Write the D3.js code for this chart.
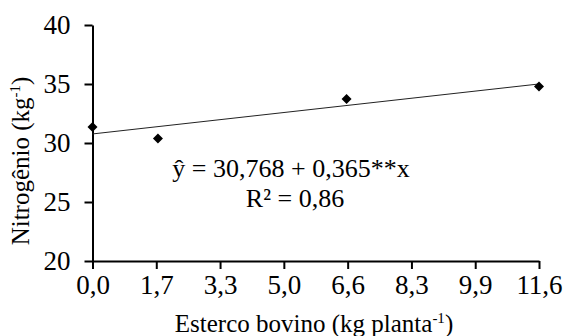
<!DOCTYPE html>
<html>
<head>
<meta charset="utf-8">
<script src="https://cdn.jsdelivr.net/npm/d3@7"></script>
<style>
  body { margin: 0; background: #fff; }
  svg, svg text { font-family: 'Liberation Serif', 'Times New Roman', Times, serif; fill: #000; }
  .axis path, .axis line { stroke: #000; stroke-width: 2; }
  .axis text { font-size: 27px; }
</style>
</head>
<body>
<div id="chart"></div>
<script>
// Datos
const doses = [0, 1.7, 6.6, 11.6]
const nitrogen = [31.36, 30.38, 33.72, 34.78]
const xTicks = [0, 1.657, 3.314, 4.971, 6.629, 8.286, 9.943, 11.6]
const xTickLabels = ["0,0", "1,7", "3,3", "5,0", "6,6", "8,3", "9,9", "11,6"]
const yTicks = [20, 25, 30, 35, 40]
const intercept = 30.768
const slope = 0.365

const width = 571
const height = 336
const margin = { top: 25, bottom: 75, left: 92.5, right: 32 }

const svg = d3.select("div#chart").append("svg")
    .attr("width", width)
    .attr("height", height)

const scaleX = d3.scaleLinear().domain([0, 11.6]).range([margin.left, width - margin.right])
const scaleY = d3.scaleLinear().domain([20, 40]).range([height - margin.bottom, margin.top])

// Ejes
const xAxis = d3.axisBottom(scaleX).tickValues(xTicks)
    .tickFormat((d, i) => xTickLabels[i]).tickSize(8).tickSizeOuter(0).tickPadding(6)
const yAxis = d3.axisLeft(scaleY).tickValues(yTicks)
    .tickSize(8).tickSizeOuter(0).tickPadding(14)

svg.append("g").attr("class", "axis")
    .attr("transform", `translate(0 ${height - margin.bottom})`)
    .call(xAxis)
    .attr("font-family", null)
svg.append("g").attr("class", "axis")
    .attr("transform", `translate(${margin.left} 0)`)
    .call(yAxis)
    .attr("font-family", null)

// Recta de regresión
const lineData = [0, 11.6].map(x => ({ x: x, y: intercept + slope * x }))
svg.append("path").datum(lineData)
    .attr("d", d3.line().x(d => scaleX(d.x)).y(d => scaleY(d.y)))
    .attr("fill", "none").attr("stroke", "#222").attr("stroke-width", 1)

// Rombos
const diamond = {
    draw(ctx, size) {
        const r = Math.sqrt(size) / 2
        ctx.moveTo(0, -r); ctx.lineTo(r, 0); ctx.lineTo(0, r); ctx.lineTo(-r, 0); ctx.closePath()
    }
}
svg.selectAll(".pt").data(doses).enter().append("path")
    .attr("class", "pt")
    .attr("d", d3.symbol(diamond, 100))
    .attr("transform", (d, i) => `translate(${scaleX(d)} ${scaleY(nitrogen[i])})`)
    .attr("fill", "#000")

// Ecuación
svg.append("text").attr("x", 291).attr("y", 177).attr("text-anchor", "middle")
    .style("font-size", "26px").text("ŷ = 30,768 + 0,365**x")
svg.append("text").attr("x", 295).attr("y", 207).attr("text-anchor", "middle")
    .style("font-size", "26px").text("R² = 0,86")

// Títulos de ejes
const xTitle = svg.append("text").attr("x", 314).attr("y", 332).attr("text-anchor", "middle")
    .style("font-size", "25px")
xTitle.append("tspan").text("Esterco bovino (kg planta")
xTitle.append("tspan").attr("dy", -9).style("font-size", "15px").text("-1")
xTitle.append("tspan").attr("dy", 9).text(")")

const yTitle = svg.append("text").attr("transform", "translate(29 161) rotate(-90)")
    .attr("text-anchor", "middle").style("font-size", "25px")
yTitle.append("tspan").text("Nitrogênio (kg")
yTitle.append("tspan").attr("dy", -9).style("font-size", "15px").text("-1")
yTitle.append("tspan").attr("dy", 9).text(")")
</script>
</body>
</html>
